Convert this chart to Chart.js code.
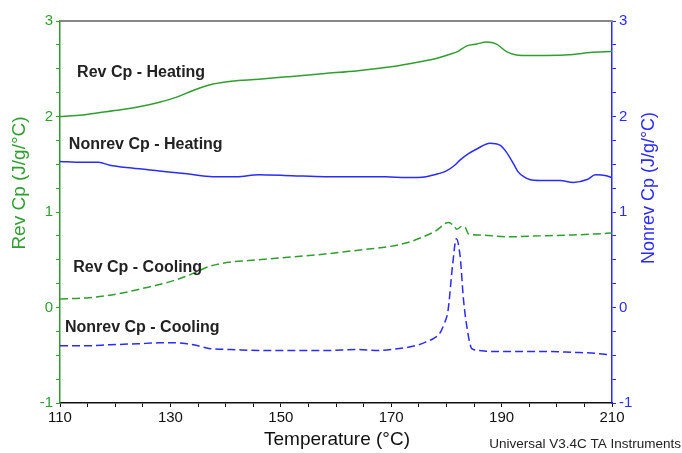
<!DOCTYPE html>
<html>
<head>
<meta charset="utf-8">
<script src="https://cdn.jsdelivr.net/npm/chart.js@4.4.1/dist/chart.umd.min.js"></script>
<style>
  html, body { margin: 0; padding: 0; background: #fff; }
  #wrap { width: 682px; height: 453px; position: relative; }
</style>
</head>
<body>
<div id="wrap"><canvas id="dsc"></canvas></div>
<script>
// Reversing heat flow traces
const revHeatT  = [110, 113, 117, 121, 125, 128, 131, 134, 137.7, 141, 146, 152, 158, 164, 170, 175, 178.3, 180.5, 182, 183.7, 185.5, 187.3, 189, 190.9, 193.7, 198, 203, 206, 210];
const revHeatCp = [2.00, 2.01, 2.04, 2.07, 2.11, 2.15, 2.20, 2.27, 2.34, 2.37, 2.39, 2.42, 2.45, 2.48, 2.52, 2.57, 2.61, 2.65, 2.68, 2.74, 2.76, 2.78, 2.76, 2.68, 2.64, 2.64, 2.65, 2.67, 2.68];

const nonrevHeatT  = [110, 114, 117, 119, 123, 128, 133, 137.7, 142, 146, 152, 158, 164, 169, 172.7, 176.3, 178.5, 180, 181.5, 182.4, 184, 185.5, 187.9, 189.7, 190.7, 191.5, 192.3, 193, 194, 195.1, 197, 200.6, 203, 205.5, 207, 209, 210];
const nonrevHeatCp = [1.53, 1.52, 1.52, 1.49, 1.46, 1.43, 1.40, 1.37, 1.37, 1.39, 1.38, 1.37, 1.37, 1.37, 1.36, 1.37, 1.40, 1.43, 1.49, 1.54, 1.61, 1.66, 1.72, 1.70, 1.64, 1.57, 1.49, 1.42, 1.37, 1.34, 1.33, 1.33, 1.31, 1.34, 1.39, 1.38, 1.36];

const revCoolT  = [110, 114.8, 118, 122, 125, 128, 131, 133, 135, 137, 140.2, 146, 152, 158, 164, 169.8, 173, 175.8, 178, 180.4, 181.4, 181.9, 182.8, 183.4, 184, 186, 191, 197, 203, 207, 210];
const revCoolCp = [0.09, 0.10, 0.12, 0.16, 0.20, 0.24, 0.29, 0.33, 0.38, 0.43, 0.47, 0.50, 0.53, 0.56, 0.60, 0.64, 0.68, 0.74, 0.80, 0.89, 0.85, 0.82, 0.85, 0.84, 0.77, 0.76, 0.74, 0.75, 0.76, 0.77, 0.78];

const nonrevCoolT  = [110, 115, 119, 124, 128, 131, 133, 135, 137, 141, 146, 152, 158, 164, 167.2, 170, 172.7, 175, 176.3, 177.8, 178.8, 179.6, 180.3, 181.1, 181.8, 182.5, 183.1, 183.9, 184.6, 186, 188.3, 193, 198, 203, 207, 210];
const nonrevCoolCp = [-0.40, -0.40, -0.39, -0.38, -0.37, -0.37, -0.38, -0.40, -0.43, -0.44, -0.45, -0.45, -0.45, -0.44, -0.45, -0.44, -0.42, -0.39, -0.36, -0.32, -0.27, -0.17, -0.03, 0.43, 0.72, 0.53, 0.08, -0.27, -0.43, -0.45, -0.46, -0.46, -0.46, -0.47, -0.48, -0.50];

// curve names and where they sit (temperature, Cp)
const curveNames = ['Rev Cp - Heating', 'Nonrev Cp - Heating', 'Rev Cp - Cooling', 'Nonrev Cp - Cooling'];
const nameT  = [113.1, 111.6, 112.4, 110.9];
const nameCp = [2.455, 1.71, 0.42, -0.215];

const xTickLabels = [110, 130, 150, 170, 190, 210];
const yTickLabels = [-1, 0, 1, 2, 3];

const GREEN = '#2f9e2f';
const BLUE = '#2b2bff';
const FONT = "Arial, 'Liberation Sans', sans-serif";

function pts(xs, ys) {
    return xs.map((x, i) => ({ x: x, y: ys[i] }));
}

const extras = {
    id: 'extras',
    afterDraw(chart) {
        const ctx = chart.ctx;
        const a = chart.chartArea;
        const sx = chart.scales.x, sy = chart.scales.y;
        ctx.save();
        // top frame line
        ctx.strokeStyle = '#888';
        ctx.lineWidth = 2;
        ctx.beginPath();
        ctx.moveTo(a.left, a.top);
        ctx.lineTo(a.right, a.top);
        ctx.stroke();

        // curve names
        ctx.fillStyle = '#222';
        ctx.font = 'bold 16px ' + FONT;
        ctx.textBaseline = 'middle';
        ctx.textAlign = 'left';
        curveNames.forEach((n, i) => {
            ctx.fillText(n, sx.getPixelForValue(nameT[i]), sy.getPixelForValue(nameCp[i]));
        });

        // axis titles
        ctx.textAlign = 'center';
        ctx.font = '19px ' + FONT;
        ctx.fillStyle = GREEN;
        ctx.save();
        ctx.translate(20, 183);
        ctx.rotate(-Math.PI / 2);
        ctx.fillText('Rev Cp (J/g/°C)', 0, 0);
        ctx.restore();
        ctx.fillStyle = BLUE;
        ctx.font = '18px ' + FONT;
        ctx.save();
        ctx.translate(649, 188);
        ctx.rotate(-Math.PI / 2);
        ctx.fillText('Nonrev Cp (J/g/°C)', 0, 0);
        ctx.restore();

        ctx.fillStyle = '#111';
        ctx.font = '19px ' + FONT;
        ctx.fillText('Temperature (°C)', 337, 440);

        ctx.textAlign = 'right';
        ctx.font = '13.5px ' + FONT;
        ctx.fillStyle = '#222';
        ctx.fillText('Universal V3.4C TA Instruments', 681, 444);
        ctx.restore();
    }
};

function line(label, data, color, dashed) {
    return {
        label: label,
        data: data,
        borderColor: color,
        borderWidth: 1.5,
        borderDash: dashed ? [8, 4] : [],
        pointRadius: 0,
        fill: false,
        cubicInterpolationMode: 'monotone',
        yAxisID: color === BLUE ? 'y2' : 'y'
    };
}

const yTicks = (color) => ({
    color: color,
    font: { family: FONT, size: 15 },
    padding: 3,
    stepSize: 0.25,
    autoSkip: false,
    callback: v => yTickLabels.includes(v) ? v : ''
});

new Chart(document.getElementById('dsc'), {
    type: 'line',
    data: {
        datasets: [
            line('Rev Cp - Heating', pts(revHeatT, revHeatCp), GREEN, false),
            line('Nonrev Cp - Heating', pts(nonrevHeatT, nonrevHeatCp), BLUE, false),
            line('Rev Cp - Cooling', pts(revCoolT, revCoolCp), GREEN, true),
            line('Nonrev Cp - Cooling', pts(nonrevCoolT, nonrevCoolCp), BLUE, true)
        ]
    },
    options: {
        responsive: true,
        maintainAspectRatio: false,
        animation: false,
        layout: { padding: { top: 21, left: 0, right: 0, bottom: 0 } },
        plugins: { legend: { display: false }, tooltip: { enabled: false } },
        scales: {
            x: {
                type: 'linear',
                min: 110, max: 210,
                border: { color: '#111', width: 1.5 },
                grid: { display: true, drawOnChartArea: false, drawTicks: true, tickLength: 4, color: '#111' },
                ticks: {
                    stepSize: 5,
                    autoSkip: false,
                    maxRotation: 0,
                    color: '#111',
                    font: { family: FONT, size: 15 },
                    padding: 2,
                    callback: v => xTickLabels.includes(v) ? v : ''
                },
                afterFit: s => { s.height = 50; }
            },
            y: {
                position: 'left',
                min: -1, max: 3,
                border: { color: GREEN, width: 1.5 },
                grid: { display: true, drawOnChartArea: false, tickLength: 4, color: GREEN },
                ticks: yTicks(GREEN),
                afterFit: s => { s.width = 60; }
            },
            y2: {
                position: 'right',
                min: -1, max: 3,
                border: { color: BLUE, width: 1.5 },
                grid: { display: true, drawOnChartArea: false, tickLength: 4, color: BLUE },
                ticks: yTicks(BLUE),
                afterFit: s => { s.width = 70; }
            }
        }
    },
    plugins: [extras]
});
</script>
</body>
</html>
